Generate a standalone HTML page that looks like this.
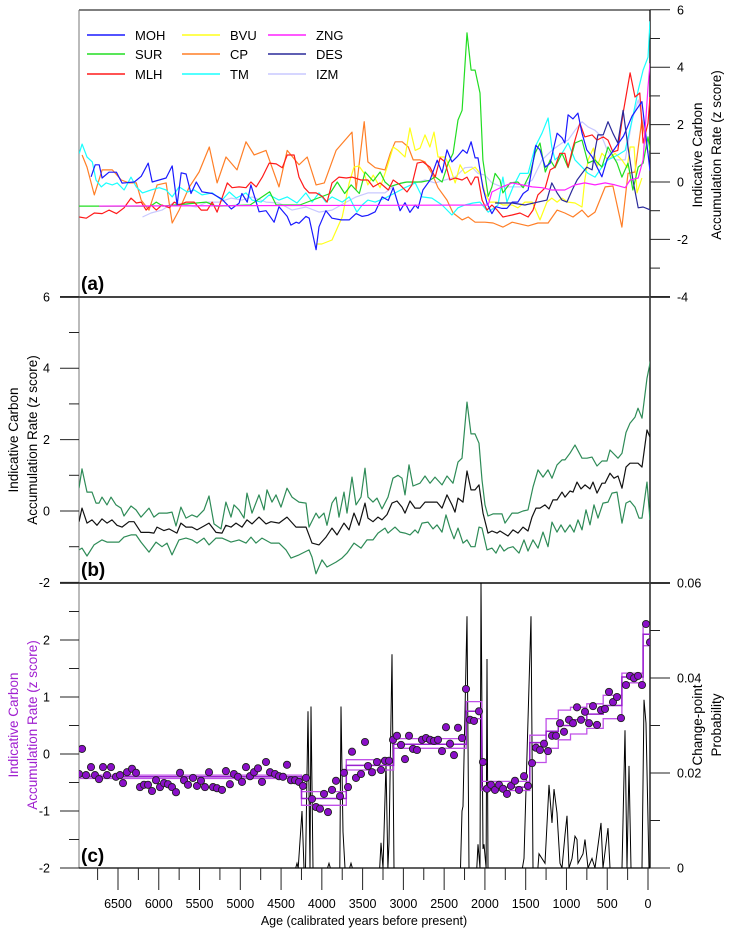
<!DOCTYPE html>
<html><head><meta charset="utf-8"><style>
body{margin:0;background:#fff}
svg{display:block;font-family:"Liberation Sans",sans-serif}
</style></head><body>
<svg id="chart" width="745" height="934" viewBox="0 0 745 934" xmlns="http://www.w3.org/2000/svg">
<defs>
<clipPath id="clipA"><rect x="79" y="10" width="571" height="287"/></clipPath>
<clipPath id="clipB"><rect x="79" y="297" width="571" height="286"/></clipPath>
<clipPath id="clipC"><rect x="79" y="583" width="571" height="285"/></clipPath>
</defs>
<g id="axes"></g>
<g id="panelA" clip-path="url(#clipA)"></g>
<g id="panelB" clip-path="url(#clipB)"></g>
<g id="panelC" clip-path="url(#clipC)"></g>
<g id="legend"></g>
<g id="labels">
<text x="81" y="290" font-size="19" font-weight="bold">(a)</text>
<text x="81" y="576" font-size="19" font-weight="bold">(b)</text>
<text x="81" y="862" font-size="19" font-weight="bold">(c)</text>
<text transform="translate(702,155) rotate(-90)" text-anchor="middle" font-size="13.5">Indicative Carbon</text>
<text transform="translate(721,155) rotate(-90)" text-anchor="middle" font-size="13.5">Accumulation Rate (z score)</text>
<text transform="translate(18,440) rotate(-90)" text-anchor="middle" font-size="13.5">Indicative Carbon</text>
<text transform="translate(37,440) rotate(-90)" text-anchor="middle" font-size="13.5">Accumulation Rate (z score)</text>
<text transform="translate(18,725) rotate(-90)" text-anchor="middle" font-size="13.5" fill="#a020d0">Indicative Carbon</text>
<text transform="translate(37,725) rotate(-90)" text-anchor="middle" font-size="13.5" fill="#a020d0">Accumulation Rate (z score)</text>
<text transform="translate(702,725) rotate(-90)" text-anchor="middle" font-size="13.5">Change-point</text>
<text transform="translate(721,725) rotate(-90)" text-anchor="middle" font-size="13.5">Probability</text>
<text x="364" y="925" text-anchor="middle" font-size="12.5">Age (calibrated years before present)</text>
</g>
</svg>
<script>
// ---------- Panel (a) data ----------
const mohAge=[6830,6780,6730,6695,6610,6520,6450,6300,6215,6130,6080,5910,5835,5775,5725,5665,5605,5540,5470,5345,5225,5110,5015,4980,4915,4870,4805,4770,4685,4585,4525,4425,4380,4315,4280,4195,4155,4070,4035,3950,3875,3765,3665,3580,3505,3435,3345,3260,3185,3125,3040,2980,2920,2855,2820,2760,2675,2585,2525,2465,2405,2340,2270,2220,2170,2120,2085,2025,1975,1915,1865,1790,1730,1665,1595,1530,1470,1420,1375,1325,1260,1200,1115,1055,1020,980,920,860,810,750,685,625,565,500,400,300,195,75,-25];
const mohZ=[.18,.6,.6,.14,.34,.34,-.04,0,.2,.66,0,.14,.56,-.8,.32,.28,-.4,0,-.34,-.4,-.6,-.94,-.74,-.4,-.7,-.1,-.7,-1.04,-1,-1.4,-.86,-1.2,-1.5,-1.4,-1.44,-1.2,-1.26,-2.36,-1.56,-1,-1.26,-1.32,-1.32,-1.1,-1.2,-1.16,-1.04,-.52,-.64,-.2,-1,-.72,-1.06,-.8,-.92,-.28,.06,.76,.32,1.12,.7,.88,1.12,1,1.4,.84,.84,-.2,-.74,-1.1,-.86,-.92,-.92,-.7,-.7,-.4,-.28,.52,1.28,1.12,.52,.66,1.7,1.54,1.36,2.34,2.2,2.4,1.7,1.12,.88,.52,.18,.8,1.2,1.6,2.3,2.8,.4];
const surAge=[6978,6100,6030,5950,5420,5300,4880,4640,4560,4270,3900,3810,3720,3640,3540,3470,3370,3285,3225,3160,3100,3040,2955,2855,2780,2675,2610,2525,2450,2390,2330,2280,2220,2170,2120,2060,2025,1960,1915,1875,1815,1780,1690,1595,1530,1445,1385,1325,1260,1200,1140,1055,980,895,810,735,650,565,490,380,320,245,185,120,60,0,-25];
const surZ=[-.84,-.84,-.7,-.84,-.7,-.84,-.8,-.34,-.8,-.8,-.4,0,-.4,-.1,-.4,.35,.03,.35,0,-.16,-.1,-.05,0,0,0,.06,.18,0,.66,1.0,2.16,2.5,5.2,3.9,3.9,3.1,.77,-.5,-.17,.3,.07,-.38,-.03,0,-.2,.3,1.0,1.36,.35,.77,.5,1.0,.5,1.36,1.46,.66,.77,.52,1.22,.66,.17,.66,-.28,.52,.66,1.57,1.1];
const mlhAge=[6975,6890,6790,6695,6610,6520,6425,6340,6275,6215,6155,6095,6030,5960,5870,5810,5750,5665,5565,5480,5405,5345,5285,5225,5160,5100,5015,4930,4870,4805,4730,4645,4560,4485,4425,4340,4280,4215,4155,4070,3995,3935,3875,3790,3700,3630,3520,3435,3370,3285,3185,3125,3040,2955,2895,2830,2760,2675,2610,2550,2490,2430,2365,2280,2220,2170,2120,2085,2035,1975,1915,1850,1780,1665,1570,1470,1410,1350,1260,1200,1140,1080,1020,980,920,835,775,685,625,550,490,430,370,305,220,160,100,60,0,-25];
const mlhZ=[-1.22,-1.26,-1.08,-1.1,-.98,-1.1,-.9,-.56,-.73,-.7,-.98,-.8,-.98,-.8,-.9,-.7,-.8,-.7,-.7,-.98,-.98,-.7,-1.05,-.56,-.03,-.2,-.17,-.2,0,-.17,.17,.66,.63,.5,.94,.94,.17,-.2,-.38,-.38,-.5,-.7,-.03,.17,.14,.17,.07,.07,-.17,-.03,-.28,.07,-.1,-.35,-.1,.66,.7,.52,.17,.84,.7,.07,.14,.07,.17,-.1,.17,.17,-.63,-.98,-.8,-.98,-1.22,-1.15,-1.08,-1.22,-.98,-.45,-.2,.42,.52,1.0,1.0,.52,1.22,2.05,1.57,1.64,1.46,1.57,1.46,1.05,1.1,2.4,3.8,2.96,3.1,1.36,2.05,2.96];
const bvuAge=[4070,4000,3875,3750,3665,3605,3545,3480,3435,3370,3285,3200,3125,3065,2980,2920,2855,2795,2735,2675,2625,2575,2490,2430,2365,2305,2245,2180,2120,2060,2000,1940,1850,1780,1665,1595,1510,1420,1325,1240,1180,1115,1055,980,895,810,775,735,670,625,565,490,405,320,255,220,170,135,75];
const bvuZ=[-2.16,-2.16,-2.02,-1.22,-.03,.52,.56,.3,-.1,.24,-.2,.52,1.22,1.1,.87,1.88,1.1,1.18,1.64,1.22,1.74,.87,.87,.52,-.03,.6,.3,.42,.52,.3,-.38,-.7,-.7,-.8,-.8,-.9,-.7,-.7,-1.32,-.7,-.56,-.7,-.56,-.7,-.73,-.87,.07,.77,1.18,.52,1.0,.77,1.0,.77,.5,1.22,1.22,-.38,.14];
const cpAge=[6940,6880,6790,6695,6570,6460,6365,6275,6215,6120,6020,5910,5835,5750,5630,5505,5380,5285,5175,5040,4930,4830,4685,4525,4425,4280,4180,4070,3970,3825,3630,3580,3480,3435,3345,3225,3160,3100,3015,2940,2880,2795,2735,2650,2575,2465,2390,2280,2205,2120,2000,1900,1780,1665,1470,1350,1225,1115,1020,920,810,735,650,525,430,320,245,160,75,0];
const cpZ=[.94,.52,-.45,.42,.42,.07,-.03,-.03,-.63,-.98,-.1,-.03,-1.43,-.98,-.2,.35,1.22,-.03,.87,.42,1.4,.94,1.1,-.17,1.1,.6,.87,-.1,-.03,1.1,1.74,-.28,2.1,.7,.5,.42,1.0,1.4,1.4,1.22,.77,.77,.7,.3,-.2,-.63,-1.08,-1.32,-1.22,-1.4,-1.4,-1.43,-1.57,-1.4,-1.53,-1.43,-1.43,-.98,-1.08,-1.22,-.98,-1.22,-1.05,-.17,-.14,-1.57,.3,.35,2.16,1.0];
const tmAge=[6975,6940,6880,6815,6770,6705,6645,6570,6510,6425,6340,6275,6200,6095,5995,5910,5835,5750,5650,5565,5470,5345,5225,5135,5050,4930,4855,4745,4645,4525,4425,4305,4195,4120,4035,3950,3875,3750,3665,3570,3505,3435,3345,3225,3100,2980,2855,2770,2650,2525,2405,2330,2245,2145,2060,1960,1840,1780,1730,1655,1570,1470,1385,1300,1225,1180,1140,1055,980,895,810,735,650,565,490,370,280,195,120,60,0,-25];
const tmZ=[1.0,1.32,.87,.7,.07,-.17,-.03,-.1,-.03,-.28,.17,-.17,-.38,-.28,-.2,-.28,-.52,-.17,-.35,-.28,-.45,-.38,-.63,-.35,-.56,-.38,-.63,-.7,-.45,-.63,-.52,-.73,-.38,-.7,-.38,-.7,-.52,-.7,-.52,-1.05,-.8,-.63,-.7,-.56,-.38,-.2,-.03,-.52,-.56,-.8,-1.15,-.9,-.8,-.73,-.7,-1.05,-.8,.17,-.7,-.17,.3,.3,1.22,1.7,2.23,1.22,.77,1.0,1.36,.77,.52,.3,.17,.52,.77,.94,1.1,2.16,3.2,3.9,4.35,5.6];
const zngAge=[6730,1960,1915,1790,1665,1545,1420,1300,1180,1020,895,775,650,525,405,280,220,120,60,0,-25];
const zngZ=[-.84,-.8,-.35,-.17,-.03,-.1,-.17,-.2,-.28,-.28,-.1,-.03,-.1,-.03,-.1,-.2,.07,.14,.77,3.3,4.14];
const desAge=[1875,1665,1510,1350,1240,1180,1115,1055,995,930,870,810,750,685,650,615,550,490,430,370,305,245,185,120,60,-25];
const desZ=[-.73,-.73,-.8,-.7,-.63,-.03,-.38,-.63,-.7,-.28,.07,.3,.52,.42,1.1,1.64,1.64,2.1,1.7,1.36,2.5,1.22,.07,-.9,-.87,-.97];
const izmAge=[6200,6095,5960,5810,5665,5540,5405,5260,5110,4980,4855,4685,4525,4365,4195,4035,3875,3700,3580,3435,3345,3225,3100,2980,2855,2735,2610,2490,2365,2245,2160,2085,2000,1915,1790,1665,1545,1420,1300,1180,1055,980,895,810,735,650,565,490,405,280,195,120,35];
const izmZ=[-1.22,-1.08,-.98,-.7,-.8,-.87,-.7,-.7,-.56,-.63,-.52,-.7,-.73,-.98,-.87,-1.05,-.98,-.7,-.52,-.38,-.38,-.38,-.1,0,-.03,.07,-.03,.07,.17,.5,.52,.3,.24,-.03,-.17,-.17,-.17,.07,.77,1.1,1.36,1.46,1.8,2.1,1.92,1.8,1.57,1.05,.77,.77,2.16,2.86,1.8];
const seriesNames=["MOH","SUR","MLH","BVU","CP","TM","ZNG","DES","IZM"];
const seriesColors=["#1a1aff","#22dd22","#ff1a1a","#ffff1a","#ff7f27","#1affff","#ff22ff","#2a2a9a","#c8c8ff"];

// ---------- Panel (b) data ----------
const meanAge=[6978,6941,6880,6819,6757,6696,6635,6574,6512,6451,6365,6304,6218,6120,6059,6022,5936,5875,5777,5728,5666,5592,5531,5445,5384,5298,5225,5176,5114,5053,4979,4918,4857,4771,4685,4624,4525,4427,4317,4194,4121,4035,3949,3875,3814,3728,3667,3606,3544,3471,3434,3373,3311,3262,3201,3140,3078,3017,2980,2919,2858,2796,2735,2649,2588,2526,2465,2404,2367,2330,2269,2220,2171,2122,2073,2024,1962,1913,1852,1815,1717,1656,1594,1533,1472,1423,1374,1325,1263,1214,1165,1116,1055,1018,957,920,871,822,773,711,675,625,564,527,466,417,368,319,270,221,123,74,12,-37];
const meanZ=[-.3,.08,-.34,-.25,-.4,-.22,-.34,-.25,-.4,-.45,-.3,-.3,-.6,-.6,-.62,-.45,-.55,-.5,-.62,-.34,-.45,-.45,-.53,-.42,-.34,-.6,-.62,-.4,-.45,-.34,-.45,-.25,-.36,-.17,-.36,-.3,-.34,-.17,-.45,-.45,-.9,-.95,-.73,-.48,-.67,-.34,-.53,-.06,-.4,.22,-.2,-.3,-.17,-.25,-.1,.22,.28,.11,-.06,.28,.08,.08,.25,.25,.25,.08,.45,.17,-.03,.36,.25,1.12,.59,.59,.73,-.06,-.62,-.56,-.62,-.56,-.7,-.53,-.62,-.45,-.56,-.17,.08,.08,.17,.06,.31,.31,.53,.39,.56,.53,.81,.62,.73,.62,.81,.5,.78,.78,1.06,.92,.98,.64,1.23,1.34,1.34,1.23,2.27,2.0];
const upperAge=[6978,6941,6880,6819,6770,6733,6696,6635,6586,6524,6463,6426,6340,6279,6218,6120,6059,5997,5899,5838,5789,5728,5666,5592,5531,5445,5384,5323,5237,5176,5114,5077,5016,4955,4918,4857,4771,4709,4673,4611,4562,4501,4427,4366,4280,4194,4157,4072,4035,3974,3937,3875,3826,3790,3728,3691,3630,3581,3520,3471,3434,3373,3324,3262,3189,3127,3066,3017,2980,2931,2882,2796,2735,2674,2612,2526,2465,2391,2330,2281,2220,2171,2122,2073,2036,1999,1962,1901,1790,1754,1668,1594,1533,1472,1410,1349,1288,1226,1177,1116,1055,1018,957,895,809,748,687,625,564,503,466,368,319,270,221,159,123,74,12,-37];
const upperZ=[.64,1.18,.53,.53,.22,.22,.39,.17,.39,.17,.08,-.14,.14,.03,-.17,.08,-.17,-.06,-.06,-.03,-.42,.11,-.2,-.11,-.17,.03,.42,-.36,-.5,.25,-.17,.17,.03,-.2,.5,-.06,.45,.03,.59,.25,.45,.11,.64,.39,.25,.22,-.45,-.06,-.2,-.06,-.4,.22,.39,-.17,.53,-.06,.95,.17,.39,1.2,.39,.25,.36,.06,.39,.92,1.0,.92,.45,1.29,.7,.78,.98,.78,.95,.73,.98,.78,1.37,1.48,3.05,2.16,2.16,1.9,.87,.17,-.14,-.08,-.08,-.34,-.06,-.06,0,.03,.67,1.15,.95,1.15,.92,1.29,1.43,1.43,1.62,1.85,1.48,1.48,1.51,1.26,1.4,1.4,1.71,1.48,1.62,2.2,2.46,2.63,2.88,2.6,3.72,4.28];
const lowerAge=[6978,6941,6880,6794,6696,6635,6574,6488,6426,6340,6279,6218,6120,6034,5960,5899,5838,5752,5666,5592,5531,5445,5384,5298,5225,5114,5016,4930,4869,4807,4734,4624,4525,4440,4378,4280,4157,4121,4072,3998,3937,3826,3753,3691,3606,3520,3446,3373,3311,3225,3189,3103,3042,2980,2919,2858,2821,2772,2698,2637,2588,2526,2477,2428,2379,2330,2269,2220,2171,2122,2073,2036,1975,1913,1864,1815,1766,1717,1656,1582,1521,1472,1410,1349,1288,1226,1177,1116,1067,1018,957,908,858,809,760,711,662,613,552,491,441,380,319,270,221,159,110,74,12,-25];
const lowerZ=[-1.09,-1.04,-1.26,-.95,-.81,-.87,-.87,-.87,-.73,-.67,-.67,-.87,-1.15,-.87,-1.0,-.9,-1.23,-.81,-.76,-.81,-.9,-.76,-.95,-.76,-.76,-.87,-.81,-.9,-.73,-.9,-.76,-.9,-.9,-1.09,-1.32,-1.23,-1.09,-1.29,-1.76,-1.37,-1.57,-1.43,-1.32,-1.18,-.9,-1.04,-.81,-.81,-.62,-.48,-.62,-.45,-.59,-.62,-.67,-.53,-.62,-.34,-.31,-.5,-.39,-.59,-.11,-.48,-.78,-.48,-.9,-.81,-1.0,-1.0,-.45,-.48,-1.09,-1.04,-1.18,-.95,-1.12,-1.04,-1.0,-1.18,-.81,-1.12,-.81,-1.04,-.59,-1.0,-.31,-.59,-.39,-.59,-.39,-.59,-.25,-.53,.03,-.39,.17,-.2,.22,.25,.5,.53,-.34,.22,.28,.11,-.2,-.2,.81,-.25];

// ---------- Panel (c) data ----------
const dotAge=[6978,6941,6892,6831,6782,6733,6684,6635,6586,6524,6475,6439,6390,6328,6279,6230,6181,6132,6083,6034,5985,5936,5887,5838,5789,5740,5691,5641,5580,5531,5482,5433,5384,5335,5286,5225,5176,5127,5078,5028,4979,4930,4881,4832,4783,4734,4685,4636,4575,4525,4476,4427,4378,4329,4280,4231,4194,4121,4072,4023,3974,3924,3875,3826,3777,3728,3679,3630,3581,3520,3471,3434,3385,3324,3275,3225,3176,3127,3078,3029,2980,2931,2882,2833,2772,2723,2674,2624,2575,2526,2477,2428,2379,2330,2281,2232,2183,2134,2073,2024,1975,1925,1876,1827,1778,1729,1680,1631,1582,1521,1472,1423,1374,1325,1275,1226,1177,1128,1079,1030,969,920,871,822,773,724,675,625,576,527,478,429,380,331,270,221,172,123,74,25,-25];
const dotZ=[-.35,.09,-.37,-.23,-.37,-.44,-.23,-.37,-.23,-.4,-.37,-.51,-.32,-.26,-.33,-.58,-.54,-.54,-.65,-.46,-.58,-.51,-.53,-.58,-.67,-.33,-.46,-.54,-.42,-.56,-.47,-.58,-.32,-.58,-.6,-.63,-.3,-.53,-.35,-.4,-.49,-.23,-.39,-.32,-.25,-.49,-.14,-.32,-.35,-.39,-.4,-.19,-.46,-.46,-.49,-.56,-.42,-.79,-.93,-.96,-.7,-1.02,-.63,-.47,-.74,-.33,-.58,.04,-.42,-.35,.21,-.21,-.32,-.14,-.28,-.12,-.12,.25,.32,.16,-.09,.32,.09,.07,.25,.28,.25,.23,.25,.05,.47,.18,-.02,.46,.28,1.14,.6,.58,.75,-.14,-.61,-.54,-.63,-.54,-.61,-.7,-.56,-.47,-.63,-.39,-.56,-.16,.11,.07,.18,.05,.32,.32,.54,.39,.6,.54,.82,.6,.74,.54,.84,.51,.77,.79,1.09,.91,1.0,.63,1.21,1.37,1.33,1.37,1.21,2.28,1.96];
const regimeBreaks=[6978,4250,3700,3120,2230,2040,1450,1250,1100,950,750,550,320,60,-30];
const regimeMean=[-.4,-.78,-.2,.17,.75,-.58,.2,.4,.5,.6,.7,.85,1.35,2.1];
const regimeUpper=[-.37,-.66,-.1,.27,.92,-.48,.33,.62,.77,.82,.88,1.03,1.42,2.25];
const regimeLower=[-.43,-.9,-.28,.1,.62,-.64,-.15,.1,.25,.35,.45,.62,1.25,1.9];
const probAge=[6978,4320,4305,4290,4243,4219,4200,4170,4145,4133,4108,4090,3930,3912,3895,3780,3765,3741,3716,3700,3660,3642,3625,3290,3274,3250,3213,3190,3176,3139,3115,3100,2300,2281,2269,2220,2195,2100,2085,2060,2048,2024,2011,1985,1974,1962,1940,1540,1521,1435,1410,1350,1337,1263,1214,1177,1153,1116,1104,1079,1055,1018,993,969,932,895,871,858,797,773,736,687,650,576,552,491,466,319,282,258,233,208,90,74,49,25,-12];
const probP=[0,0,.001,0,.012,0,0,.033,0,.034,0,0,0,.001,0,0,.034,.0076,0,0,0,.001,0,0,.0053,0,.022,0,.0053,.045,0,0,0,.012,.013,.053,0,0,.005,0,.06,.004,.005,0,.044,0,0,0,.002,.053,0,0,.003,.001,.0175,.0095,.0166,.0116,.008,.001,0,.007,.011,0,.002,.0067,.006,.001,.003,.006,0,.002,0,.0095,0,.0084,0,0,.029,0,.0215,0,0,0,.0354,.0305,0];

// ---------- Tick data ----------
const xTickLabels=[0,500,1000,1500,2000,2500,3000,3500,4000,4500,5000,5500,6000,6500];
const xMinorTicks=[250,750,1250,1750,2250,2750,3250,3750,4250,4750,5250,5750,6250,6750];
const aTicks=[6,4,2,0,-2,-4];
const aMinor=[5,3,1,-1,-3];
const bTicks=[6,4,2,0,-2];
const bMinor=[5,3,1,-1];
const cTicks=[2,1,0,-1,-2];
const cMinor=[2.5,1.5,.5,-.5,-1.5];
const pTicks=[0,0.02,0.04,0.06];
const pMinor=[0.01,0.03,0.05];

// ---------- Scales ----------
const X=a=>648-a*0.08154;
const YA=z=>182-z*28.7;
const YB=z=>511-z*35.7;
const YC=z=>754-z*57;
const YP=p=>868-p/0.06*285;
const NS="http://www.w3.org/2000/svg";
function mk(tag,attrs,parent){const e=document.createElementNS(NS,tag);for(const k in attrs)e.setAttribute(k,attrs[k]);parent.appendChild(e);return e;}
function pathD(ages,vals,ys){let d="";const n=Math.min(ages.length,vals.length);for(let i=0;i<n;i++){d+=(i?"L":"M")+X(ages[i]).toFixed(1)+","+ys(vals[i]).toFixed(1);}return d;}

const axes=document.getElementById("axes");
const pA=document.getElementById("panelA"),pB=document.getElementById("panelB"),pC=document.getElementById("panelC");

// frame
let ln;
ln=mk("line",{x1:79,y1:10,x2:650,y2:10,stroke:"#555","stroke-width":1.5},axes);


ln=mk("line",{x1:79,y1:10,x2:79,y2:868,stroke:"#777","stroke-width":1},axes);


ln=mk("line",{x1:650,y1:10,x2:650,y2:868,stroke:"#000","stroke-width":1.3},axes);


ln=mk("line",{x1:60,y1:297,x2:670,y2:297,stroke:"#444","stroke-width":2},axes);


ln=mk("line",{x1:60,y1:583,x2:670,y2:583,stroke:"#444","stroke-width":2},axes);


ln=mk("line",{x1:79,y1:868,x2:650,y2:868,stroke:"#000","stroke-width":1.3},axes);



function tickLabel(x,y,txt,anchor,name){const t=mk("text",{x:x,y:y,"font-size":12.5,"text-anchor":anchor},axes);t.textContent=txt;}
function tick(x1,y1,x2,y2,name){const t=mk("line",{x1:x1,y1:y1,x2:x2,y2:y2,stroke:"#222","stroke-width":1},axes);}
// panel a right axis
aTicks.forEach(v=>{tick(650,YA(v),670,YA(v),'a-tick');tickLabel(677,YA(v)+4.5,String(v),"start",'a-tick-label');});
aMinor.forEach(v=>tick(650,YA(v),660,YA(v),'a-minor-tick'));
// panel b left axis
bTicks.forEach(v=>{tick(60,YB(v),79,YB(v),'b-tick');tickLabel(50,YB(v)+4.5,String(v),"end",'b-tick-label');});
bMinor.forEach(v=>tick(69,YB(v),79,YB(v),'b-minor-tick'));
// panel c left axis
cTicks.forEach(v=>{tick(60,YC(v),79,YC(v),'c-tick');tickLabel(50,YC(v)+4.5,String(v),"end",'c-tick-label');});
cMinor.forEach(v=>tick(69,YC(v),79,YC(v),'c-minor-tick'));
// panel c right axis
pTicks.forEach(v=>{tick(650,YP(v),670,YP(v),'p-tick');tickLabel(677,YP(v)+4.5,v===0?"0":v.toFixed(2),"start",'p-tick-label');});
pMinor.forEach(v=>tick(650,YP(v),660,YP(v),'p-minor-tick'));
// x axis
xTickLabels.forEach(v=>{tick(X(v),868,X(v),890,'x-tick');tickLabel(X(v),908,String(v),"middle",'x-tick-label');});
xMinorTicks.forEach(v=>tick(X(v),868,X(v),880,'x-minor-tick'));

// panel a series
const aAges=[mohAge,surAge,mlhAge,bvuAge,cpAge,tmAge,zngAge,desAge,izmAge];
const aVals=[mohZ,surZ,mlhZ,bvuZ,cpZ,tmZ,zngZ,desZ,izmZ];
const drawOrder=[8,4,3,5,1,2,0,7,6];
drawOrder.forEach(i=>{
  const p=mk("path",{d:pathD(aAges[i],aVals[i],YA),fill:"none",stroke:seriesColors[i],"stroke-width":1.2,"stroke-linejoin":"round"},pA);
  
  
});
// legend
const lg=document.getElementById("legend");
const legCols=[87,182,268],legRows=[35,54,74];
seriesNames.forEach((n,i)=>{
  const cx=legCols[Math.floor(i/3)],cy=legRows[i%3];
  const g=mk("g",{},lg);
  
  
  mk("line",{x1:cx,y1:cy,x2:cx+38,y2:cy,stroke:seriesColors[i],"stroke-width":1.6},g);
  const t=mk("text",{x:cx+48,y:cy+5,"font-size":13},g);t.textContent=n;
});

// panel b
[[upperAge,upperZ,'upper-bound-line',"#2e8b57"],[lowerAge,lowerZ,'lower-bound-line',"#2e8b57"],[meanAge,meanZ,'mean-line',"#111"]].forEach(s=>{
  const p=mk("path",{d:pathD(s[0],s[1],YB),fill:"none",stroke:s[3],"stroke-width":1.2,"stroke-linejoin":"round"},pB);
  
  
});

// panel c: probability
const pp=mk("path",{d:pathD(probAge,probP,YP),fill:"none",stroke:"#000","stroke-width":1},pC);


// regime steps
function stepD(vals){let d="";for(let i=0;i<vals.length;i++){const x1=X(regimeBreaks[i]),x2=X(regimeBreaks[i+1]),y=YC(vals[i]);d+=(i?"L":"M")+x1.toFixed(1)+","+y.toFixed(1)+"L"+x2.toFixed(1)+","+y.toFixed(1);}return d;}
[[regimeUpper,'regime-upper',"#c050e8",1.3],[regimeLower,'regime-lower',"#c050e8",1.3],[regimeMean,'regime-mean',"#9a20d0",1.5]].forEach(s=>{
  const p=mk("path",{d:stepD(s[0]),fill:"none",stroke:s[2],"stroke-width":s[3]},pC);
  
  
});
// dots
const n=Math.min(dotAge.length,dotZ.length);
for(let i=0;i<n;i++){
  const c=mk("circle",{cx:X(dotAge[i]).toFixed(1),cy:YC(dotZ[i]).toFixed(1),r:3.6,fill:"#8a0fc8",stroke:"#222","stroke-width":0.9},pC);
  
  
}
</script>
</body></html>
